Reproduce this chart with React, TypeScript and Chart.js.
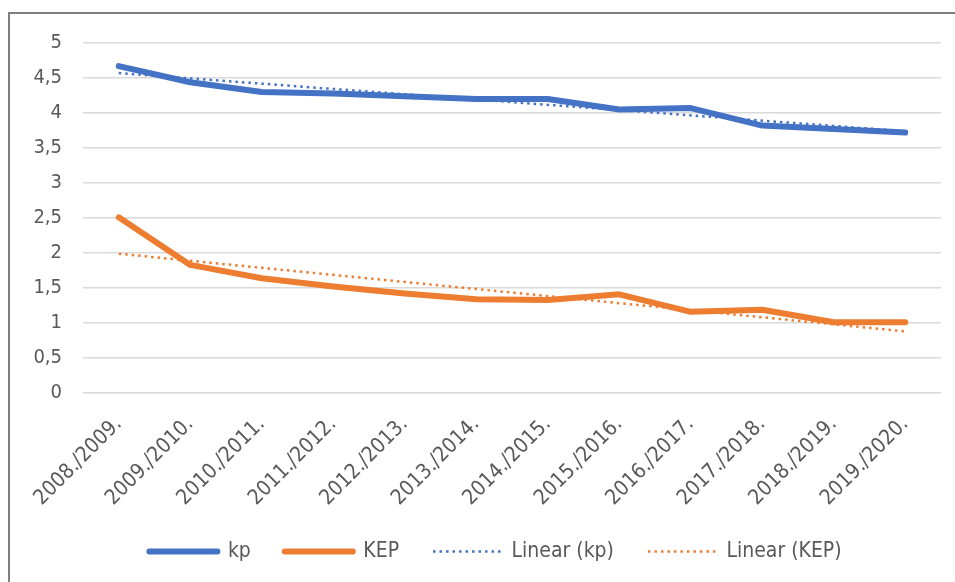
import React, { useEffect, useRef } from "react";
import { Chart, registerables } from "chart.js";

Chart.register(...registerables);

const categories = [
  "2008./2009.", "2009./2010.", "2010./2011.", "2011./2012.", "2012./2013.", "2013./2014.",
  "2014./2015.", "2015./2016.", "2016./2017.", "2017./2018.", "2018./2019.", "2019./2020.",
];
const kpValues = [4.67, 4.44, 4.3, 4.28, 4.24, 4.2, 4.2, 4.05, 4.07, 3.82, 3.77, 3.72];
const kepValues = [2.51, 1.83, 1.64, 1.52, 1.42, 1.34, 1.33, 1.41, 1.16, 1.19, 1.01, 1.01];
// trendlines: read endpoints only, straight line drawn between them
const linearKp = [4.57, null, null, null, null, null, null, null, null, null, null, 3.74];
const linearKep = [1.99, null, null, null, null, null, null, null, null, null, null, 0.88];
const seriesNames = ["kp", "KEP", "Linear (kp)", "Linear (KEP)"];
const yMin = 0;
const yMax = 5;
const yStep = 0.5;

const BLUE = "#4472C4";
const ORANGE = "#ED7D31";
const TEXT = "#595959";
const FONT = "'Liberation Sans Narrow', 'DejaVu Sans Condensed', 'Liberation Sans', sans-serif";

const yAxisLeftPlugin = {
  id: "yAxisLeft",
  afterLayout(chart: any) {
    // let y tick labels use the space to the left of the axis box
    if (chart.scales.y) chart.scales.y.left = 0;
  },
};

export default function App() {
  const ref = useRef<HTMLCanvasElement | null>(null);

  useEffect(() => {
    if (!ref.current) return;
    const chart = new Chart(ref.current, {
      type: "line",
      data: {
        labels: categories,
        datasets: [
          {
            label: seriesNames[0], data: kpValues, borderColor: BLUE, backgroundColor: BLUE,
            borderWidth: 6, borderCapStyle: "round", borderJoinStyle: "round",
            pointRadius: 0, tension: 0, order: 2,
          },
          {
            label: seriesNames[1], data: kepValues, borderColor: ORANGE, backgroundColor: ORANGE,
            borderWidth: 6, borderCapStyle: "round", borderJoinStyle: "round",
            pointRadius: 0, tension: 0, order: 2,
          },
          {
            label: seriesNames[2], data: linearKp, borderColor: BLUE, backgroundColor: BLUE,
            borderWidth: 2.5, borderDash: [2.5, 4], spanGaps: true,
            pointRadius: 0, tension: 0, order: 1,
          },
          {
            label: seriesNames[3], data: linearKep, borderColor: ORANGE, backgroundColor: ORANGE,
            borderWidth: 2.5, borderDash: [2.5, 4], spanGaps: true,
            pointRadius: 0, tension: 0, order: 1,
          },
        ] as any,
      },
      options: {
        responsive: false,
        animation: false,
        devicePixelRatio: 1,
        layout: { padding: { left: 50, right: 14, top: 43, bottom: 10 } },
        font: { family: FONT },
        scales: {
          x: {
            offset: true,
            grid: { display: false, drawTicks: false },
            border: { display: false },
            ticks: {
              color: TEXT, font: { family: FONT, size: 21 },
              minRotation: 45, maxRotation: 45, autoSkip: false, padding: 19, labelOffset: 0,
            },
            afterFit: (s: any) => { s.height = 114; },
          },
          y: {
            min: yMin, max: yMax,
            grid: { color: "#D9D9D9", lineWidth: 1.5, drawTicks: false },
            border: { display: false },
            ticks: {
              stepSize: yStep, color: TEXT, font: { family: FONT, size: 20 }, padding: 21,
              callback: (v: any) => String(v).replace(".", ","),
            },
            afterFit: (s: any) => { s.width = 33; },
          },
        },
        plugins: {
          tooltip: { enabled: false },
          legend: {
            position: "bottom",
            labels: {
              usePointStyle: true,
              pointStyleWidth: 68,
              padding: 34,
              color: TEXT,
              font: { family: FONT, size: 21 },
              generateLabels: (c: any) =>
                c.data.datasets.map((ds: any, i: number) => ({
                  text: ds.label,
                  fillStyle: ds.borderColor,
                  strokeStyle: ds.borderColor,
                  lineWidth: ds.borderWidth,
                  lineDash: ds.borderDash || [],
                  lineCap: ds.borderDash ? "butt" : "round",
                  pointStyle: "line",
                  hidden: false,
                  datasetIndex: i,
                  fontColor: TEXT,
                })),
            },
          },
        },
      },
      plugins: [yAxisLeftPlugin],
    });
    return () => chart.destroy();
  }, []);

  return (
    <div style={{ position: "fixed", left: 0, top: 0, width: 955, height: 582, overflow: "hidden", background: "#fff" }}>
      <div style={{ position: "absolute", left: 8, top: 12, width: 1000, height: 1000, border: "2px solid #7F7F7F", boxSizing: "border-box" }} />
      <canvas ref={ref} width={955} height={582} style={{ position: "absolute", left: 0, top: 0, width: 955, height: 582 }} />
    </div>
  );
}
